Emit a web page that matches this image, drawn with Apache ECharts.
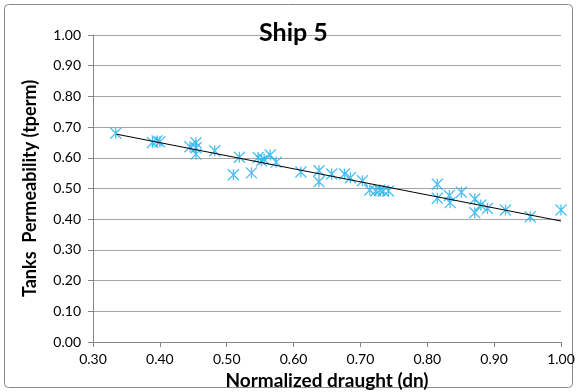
<!DOCTYPE html>
<html>
<head>
<meta charset="utf-8">
<script src="https://cdn.jsdelivr.net/npm/echarts@6/dist/echarts.min.js"></script>
<style>
  html, body { margin: 0; padding: 0; background: #fff; }
  #main { width: 577px; height: 392px; }
</style>
</head>
<body>
<div id="main"></div>
<script>
// 测点数据 (dn, tperm)
var draught = [0.334, 0.389, 0.396, 0.400, 0.445, 0.454, 0.454, 0.454, 0.482, 0.519,
               0.510, 0.537, 0.547, 0.552, 0.556, 0.565, 0.574, 0.611, 0.638, 0.638,
               0.657, 0.676, 0.685, 0.703, 0.714, 0.723, 0.729, 0.734, 0.742, 0.815,
               0.815, 0.833, 0.834, 0.851, 0.871, 0.871, 0.880, 0.890, 0.917, 0.954, 1.000];
var permeability = [0.680, 0.650, 0.655, 0.652, 0.636, 0.649, 0.633, 0.612, 0.623, 0.602,
                    0.545, 0.551, 0.601, 0.590, 0.595, 0.609, 0.586, 0.554, 0.558, 0.522,
                    0.547, 0.547, 0.535, 0.525, 0.495, 0.492, 0.495, 0.492, 0.492, 0.514,
                    0.468, 0.477, 0.454, 0.488, 0.466, 0.421, 0.446, 0.435, 0.430, 0.408, 0.430];
// 趋势线端点
var trendX = [0.335, 1.0];
var trendY = [0.677, 0.394];

var points = draught.map(function (d, i) { return [d, permeability[i]]; });
var trend = trendX.map(function (d, i) { return [d, trendY[i]]; });

var chart = echarts.init(document.getElementById('main'));
var font = 'Lato, "Open Sans", sans-serif';

chart.setOption({
    animation: false,
    textStyle: { fontFamily: font },
    graphic: [{
        type: 'rect',
        shape: { x: 4.5, y: 4.5, width: 568, height: 383, r: 4 },
        style: { fill: 'none', stroke: '#8c8c8c', lineWidth: 1 },
        silent: true
    }],
    title: {
        text: 'Ship 5',
        left: 254,
        top: 15,
        textStyle: { fontFamily: font, fontSize: 25, fontWeight: 'bold', color: '#000' }
    },
    grid: { left: 93, right: 16, top: 35, bottom: 50, containLabel: false, outerBoundsMode: 'none' },
    xAxis: {
        type: 'value',
        min: 0.3,
        max: 1.0,
        interval: 0.1,
        name: 'Normalized draught (dn)',
        nameLocation: 'middle',
        nameGap: 25,
        nameTextStyle: { fontFamily: font, fontSize: 19, fontWeight: 'bold', color: '#000' },
        axisLine: { lineStyle: { color: '#868686' } },
        axisTick: { show: true, length: 5, lineStyle: { color: '#868686' } },
        axisLabel: {
            fontSize: 14, color: '#000', margin: 10,
            formatter: function (v) { return v.toFixed(2); }
        },
        splitLine: { show: false }
    },
    yAxis: {
        type: 'value',
        min: 0,
        max: 1.0,
        interval: 0.1,
        name: 'Tanks  Permeability (tperm)',
        nameLocation: 'middle',
        nameGap: 54,
        nameTextStyle: { fontFamily: font, fontSize: 18, fontWeight: 'bold', color: '#000' },
        axisLine: { show: true, lineStyle: { color: '#868686' } },
        axisTick: { show: true, length: 5, lineStyle: { color: '#868686' } },
        axisLabel: {
            fontSize: 14, color: '#000', margin: 12,
            formatter: function (v) { return v.toFixed(2); }
        },
        splitLine: { show: true, lineStyle: { color: '#a6a6a6' } }
    },
    series: [{
        name: 'tperm',
        type: 'scatter',
        data: points,
        symbol: 'path://M0,0L10,10M10,0L0,10M5,0L5,10',
        symbolSize: 11,
        itemStyle: { color: 'none', borderColor: '#1fb0ec', borderWidth: 1.3 },
        z: 3
    }, {
        name: 'trend',
        type: 'line',
        data: trend,
        symbol: 'none',
        lineStyle: { color: '#000', width: 1 },
        z: 4
    }]
});
</script>
</body>
</html>
